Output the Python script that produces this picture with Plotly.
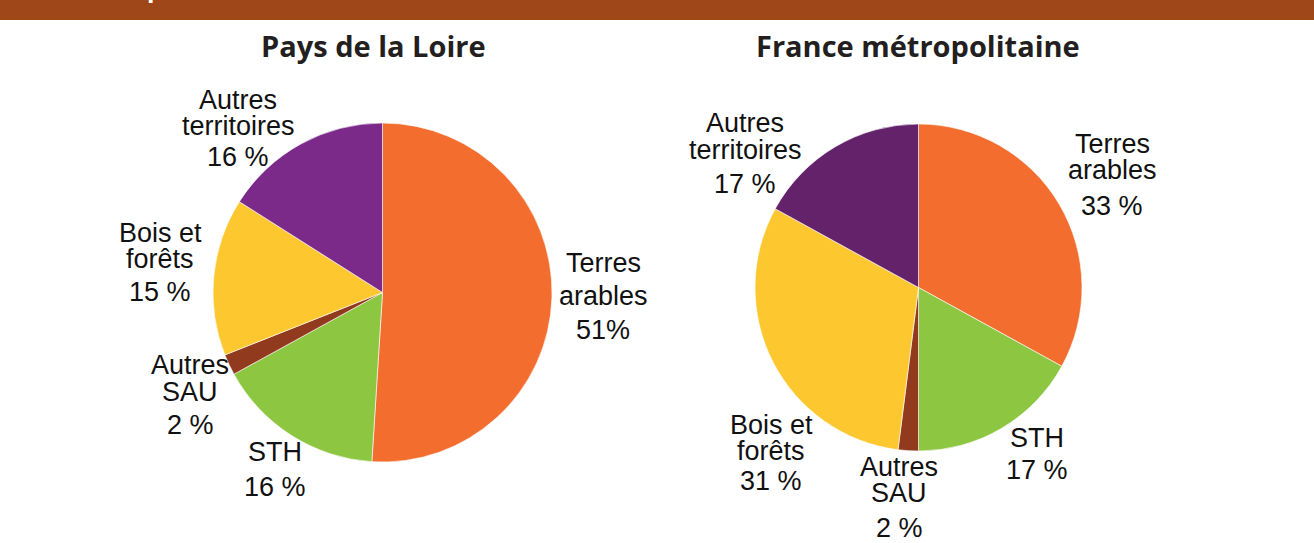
import plotly.graph_objects as go

W, H = 1314, 543

categories = ["Terres arables", "STH", "Autres SAU", "Bois et forêts", "Autres territoires"]
pdl_values = [51, 16, 2, 15, 16]
france_values = [33, 17, 2, 31, 17]

# label text, one entry per line (name lines, then percentage)
pdl_labels = [["Terres", "arables"], ["STH"], ["Autres", "SAU"], ["Bois et", "forêts"], ["Autres", "territoires"]]
pdl_pct = ["51%", "16 %", "2 %", "15 %", "16 %"]
france_labels = [["Terres", "arables"], ["STH"], ["Autres", "SAU"], ["Bois et", "forêts"], ["Autres", "territoires"]]
france_pct = ["33 %", "17 %", "2 %", "31 %", "17 %"]

pdl_colors = ["#F26D2E", "#8DC641", "#923A1E", "#FDC72F", "#7B2A89"]
france_colors = ["#F26D2E", "#8DC641", "#923A1E", "#FDC72F", "#63226A"]

# label anchors in pixels: (x centre, y of first line, line step, gap before pct)
pdl_pos = [(603, 263, 33, 34), (275, 452, 0, 35), (190, 365, 27, 33), (160, 233, 26, 33), (238, 100, 26, 31)]
france_pos = [(1112, 144, 26, 36), (1037, 438, 0, 32), (899, 467, 26, 35), (771, 425, 26, 30), (745, 123, 27, 34)]

LABEL_FONT = dict(family="Liberation Sans, Arial", size=27, color="#111111")


def px(x, y):
    return x / W, 1 - y / H


def pie(values, colors, cx, cy, r):
    x0, y0 = px(cx - r, cy + r)
    x1, y1 = px(cx + r, cy - r)
    return go.Pie(
        labels=categories,
        values=values,
        sort=False,
        direction="clockwise",
        rotation=0,
        textinfo="none",
        hoverinfo="label+percent",
        marker=dict(colors=colors, line=dict(color="white", width=0.6)),
        domain=dict(x=[x0, x1], y=[y0, y1]),
        showlegend=False,
    )


fig = go.Figure()
fig.add_trace(pie(pdl_values, pdl_colors, 382.5, 292.5, 169.5))
fig.add_trace(pie(france_values, france_colors, 918.5, 287.5, 163.5))

annotations = []


def add_labels(labels, pcts, positions):
    for lines, pct, (x, y, step, gap) in zip(labels, pcts, positions):
        yy = y
        for i, line in enumerate(lines):
            if i > 0:
                yy += step
            ax, ay = px(x, yy)
            annotations.append(dict(x=ax, y=ay, text=line, showarrow=False,
                                    xref="paper", yref="paper", xanchor="center", yanchor="middle",
                                    font=LABEL_FONT))
        ax, ay = px(x, yy + gap)
        annotations.append(dict(x=ax, y=ay, text=pct, showarrow=False,
                                xref="paper", yref="paper", xanchor="center", yanchor="middle",
                                font=LABEL_FONT))


add_labels(pdl_labels, pdl_pct, pdl_pos)
add_labels(france_labels, france_pct, france_pos)

# panel titles
for title, x in [("Pays de la Loire", 373), ("France métropolitaine", 918)]:
    ax, ay = px(x, 45)
    annotations.append(dict(x=ax, y=ay, text=f"<b>{title}</b>", showarrow=False,
                            xref="paper", yref="paper", xanchor="center", yanchor="middle",
                            font=dict(family="Open Sans", size=29, color="#231F20")))

# descender of the cut-off page heading
ax, ay = px(155, 6)
annotations.append(dict(x=ax, y=ay, text="<b>p</b>", showarrow=False, xref="paper", yref="paper",
                        xanchor="center", yanchor="bottom",
                        font=dict(family="Lato, Open Sans", size=30, color="white")))

fig.update_layout(
    width=W,
    height=H,
    margin=dict(l=0, r=0, t=0, b=0),
    paper_bgcolor="white",
    plot_bgcolor="white",
    annotations=annotations,
    shapes=[dict(type="rect", xref="paper", yref="paper", x0=0, x1=1, y0=1 - 20 / H, y1=1,
                 fillcolor="#A0471A", line=dict(width=0), layer="below")],
)

fig.write_html("out.html", config={"displayModeBar": False},
               post_script="document.body.style.margin='0';document.body.style.overflow='hidden';")
